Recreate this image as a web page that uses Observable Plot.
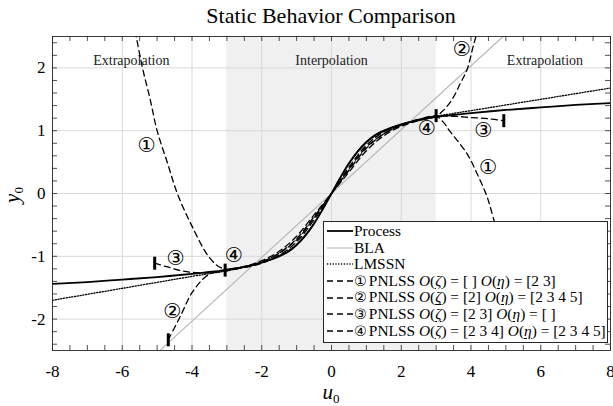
<!DOCTYPE html>
<html><head><meta charset="utf-8">
<script src="https://cdn.jsdelivr.net/npm/d3@7"></script>
<script src="https://cdn.jsdelivr.net/npm/@observablehq/plot@0.6"></script>
<style>
body{margin:0;background:#fff;}
#wrap{position:relative;width:613px;height:406px;font-family:"Liberation Serif",serif;color:#000;overflow:hidden;}
#title{position:absolute;left:52px;width:558px;top:4px;text-align:center;font-size:22px;line-height:24px;}
#chart{position:absolute;left:0;top:30px;}
#xlab{position:absolute;left:311px;width:40px;top:381px;text-align:center;font-size:21px;line-height:22px;font-style:italic;}
#ylab{position:absolute;left:-8px;top:184px;width:40px;text-align:center;font-size:21px;line-height:22px;font-style:italic;transform:rotate(-90deg);}
sub{font-style:normal;font-size:13px;vertical-align:-4px;line-height:0;}
#legend{position:absolute;left:323px;top:221px;width:283px;height:120px;background:#fff;border:1px solid #262626;font-size:15.4px;}
.row{height:16.6px;line-height:16.6px;white-space:nowrap;display:flex;align-items:center;}
.row svg{flex:none;}
.circ{font-family:"DejaVu Sans",sans-serif;font-size:14.3px;line-height:16px;margin-right:2px;}
.ul{text-decoration:underline;font-style:italic;text-underline-offset:2px;}
.O{font-style:italic;}
</style></head>
<body>
<div id="wrap">
  <div id="title">Static Behavior Comparison</div>
  <div id="chart"></div>
  <div id="xlab">u<sub>0</sub></div>
  <div id="ylab">y<sub>0</sub></div>
  <div id="legend"></div>
</div>
<script>
// ---- data ----
const xMajor = [-8,-6,-4,-2,0,2,4,6,8];
const yMajor = [-2,-1,0,1,2];
const xMinor = [-8,-7.5,-7,-6.5,-6,-5.5,-5,-4.5,-4,-3.5,-3,-2.5,-2,-1.5,-1,-0.5,0,0.5,1,1.5,2,2.5,3,3.5,4,4.5,5,5.5,6,6.5,7,7.5,8];
const yMinor = [-2.4,-2.2,-2,-1.8,-1.6,-1.4,-1.2,-1,-0.8,-0.6,-0.4,-0.2,0,0.2,0.4,0.6,0.8,1,1.2,1.4,1.6,1.8,2,2.2,2.4];

const interpFrom = -3, interpTo = 3;
const regionText = ["Extrapolation","Interpolation","Extrapolation"];
const regionX = [-5.74, 0, 6.12];
const regionY = [2.12, 2.12, 2.12];

const processX = [-8,-7,-6,-5,-4,-3.5,-3,-2.5,-2,-1.5,-1.25,-1,-0.75,-0.5,-0.25,0,0.25,0.5,0.75,1,1.25,1.5,2,2.5,3,3.5,4,5,6,7,8];
const processY = [-1.44,-1.41,-1.37,-1.33,-1.28,-1.25,-1.22,-1.17,-1.10,-1.00,-0.93,-0.82,-0.67,-0.48,-0.25,0,0.25,0.48,0.67,0.82,0.93,1.00,1.10,1.17,1.22,1.25,1.28,1.33,1.37,1.41,1.44];

const blaX = [-4.92, 4.92];
const blaY = [-2.5, 2.5];

const lmssnX = [-8,-6,-4,-3,-2.5,-2,-1.5,-1,-0.5,0,0.5,1,1.5,2,2.5,3,4,6,8];
const lmssnY = [-1.70,-1.51,-1.32,-1.23,-1.17,-1.10,-0.99,-0.81,-0.47,0,0.47,0.81,0.99,1.10,1.17,1.23,1.32,1.50,1.68];

const pnlss1X = [-5.75,-5.6,-5.42,-5.2,-5.0,-4.7,-4.42,-4.0,-3.5,-3.13,-2.5,-2,-1.5,-1,-0.5,0,0.5,1,1.5,2,2.5,3,3.2,3.41,3.89,4.22,4.46,4.63,4.85,5.1];
const pnlss1Y = [2.9,2.5,2.0,1.5,1.0,0.48,0.0,-0.52,-1.02,-1.19,-1.17,-1.09,-0.95,-0.72,-0.37,0,0.37,0.72,0.95,1.09,1.18,1.23,1.14,0.98,0.63,0.26,-0.05,-0.37,-0.8,-1.3];

const pnlss2X = [-4.68,-4.33,-4.0,-3.6,-3.3,-3,-2.5,-2,-1.5,-1,-0.5,0,0.5,1,1.5,2,2.5,3,3.2,3.46,3.7,3.89,4.08,4.25];
const pnlss2Y = [-2.33,-1.95,-1.58,-1.32,-1.24,-1.21,-1.16,-1.07,-0.92,-0.68,-0.34,0,0.34,0.68,0.92,1.07,1.16,1.23,1.32,1.50,1.76,1.98,2.38,2.7];

const pnlss3X = [-5.07,-4.7,-4.3,-3.9,-3.5,-3,-2.5,-2,-1.5,-1,-0.5,0,0.5,1,1.5,2,2.5,3,3.5,4,4.5,4.94];
const pnlss3Y = [-1.11,-1.17,-1.23,-1.26,-1.26,-1.23,-1.17,-1.09,-0.95,-0.74,-0.39,0,0.39,0.74,0.95,1.09,1.17,1.23,1.23,1.21,1.19,1.16];

const pnlss4X = [-3.05,-2.5,-2,-1.5,-1,-0.5,0,0.5,1,1.5,2,2.5,3];
const pnlss4Y = [-1.22,-1.18,-1.11,-0.98,-0.77,-0.42,0,0.42,0.77,0.98,1.10,1.18,1.24];

const endX = [-4.68,-5.07,4.94,-3.05,3.0];
const endY = [-2.33,-1.11,1.16,-1.22,1.24];

const labelText = ["①","①","②","②","③","③","④","④"];
const labelX = [-5.30,4.49,-4.56,3.74,-4.47,4.36,-2.80,2.74];
const labelY = [0.76,0.42,-1.88,2.30,-1.04,1.01,-0.98,1.03];

const circled = ["①","②","③","④"];
const zetaOrders = ["[ ]","[2]","[2 3]","[2 3 4]"];
const etaOrders = ["[2 3]","[2 3 4 5]","[ ]","[2 3 4 5]"];

// ---- build ----
const zip = (xs, ys) => xs.map((x, i) => ({x, y: ys[i]}));
const W = 613, H = 376, mT = 6, mB = 56, mL = 52, mR = 3;
const fw = W - mL - mR, fh = H - mT - mB;
const tk = 5;
const serif = "Liberation Serif, serif";

const barSymbol = {draw(ctx, size){ const r = Math.sqrt(size / Math.PI); ctx.rect(-1.5, -r, 3, 2 * r); }};
const dash = "6,4";

const chart = Plot.plot({
  width: W, height: H,
  marginTop: mT, marginBottom: mB, marginLeft: mL, marginRight: mR,
  style: {fontFamily: serif, background: "transparent"},
  x: {domain: [-8, 8], label: null},
  y: {domain: [-2.5, 2.5], label: null},
  marks: [
    Plot.rect([{a: interpFrom, b: interpTo}], {x1: "a", x2: "b", fill: "#f0f0f0"}),
    Plot.ruleX(xMajor, {stroke: "#d9d9d9", strokeWidth: 1}),
    Plot.ruleY(yMajor, {stroke: "#d9d9d9", strokeWidth: 1}),
    Plot.text(regionText.map((t, i) => ({t, x: regionX[i], y: regionY[i]})), {x: "x", y: "y", text: "t", fontSize: 14, fill: "#222"}),
    Plot.line(zip(blaX, blaY), {x: "x", y: "y", stroke: "#b5b5b5", strokeWidth: 1.1, clip: true}),
    Plot.line(zip(processX, processY), {x: "x", y: "y", stroke: "#000", strokeWidth: 1.8, curve: "catmull-rom", clip: true}),
    Plot.line(zip(lmssnX, lmssnY), {x: "x", y: "y", stroke: "#000", strokeWidth: 1.3, strokeDasharray: "1.2,1.6", curve: "catmull-rom", clip: true}),
    Plot.line(zip(pnlss1X, pnlss1Y), {x: "x", y: "y", stroke: "#000", strokeWidth: 1.3, strokeDasharray: dash, curve: "catmull-rom", clip: true}),
    Plot.line(zip(pnlss2X, pnlss2Y), {x: "x", y: "y", stroke: "#000", strokeWidth: 1.3, strokeDasharray: dash, curve: "catmull-rom", clip: true}),
    Plot.line(zip(pnlss3X, pnlss3Y), {x: "x", y: "y", stroke: "#000", strokeWidth: 1.3, strokeDasharray: dash, curve: "catmull-rom", clip: true}),
    Plot.line(zip(pnlss4X, pnlss4Y), {x: "x", y: "y", stroke: "#000", strokeWidth: 1.3, strokeDasharray: dash, curve: "catmull-rom", clip: true}),
    Plot.dot(zip(endX, endY), {x: "x", y: "y", symbol: barSymbol, r: 6.5, fill: "#000", stroke: "none"}),
    Plot.text(labelText.map((t, i) => ({t, x: labelX[i], y: labelY[i]})), {x: "x", y: "y", text: "t", fontSize: 20.5, fontFamily: "DejaVu Sans, sans-serif", fill: "#000"}),
    Plot.frame({stroke: "#262626", strokeWidth: 0.9}),
    Plot.ruleX(xMinor, {stroke: "#262626", strokeWidth: 0.8, insetTop: fh - tk}),
    Plot.ruleX(xMinor, {stroke: "#262626", strokeWidth: 0.8, insetBottom: fh - tk}),
    Plot.ruleY(yMinor, {stroke: "#262626", strokeWidth: 0.8, insetRight: fw - tk}),
    Plot.ruleY(yMinor, {stroke: "#262626", strokeWidth: 0.8, insetLeft: fw - tk}),
    Plot.axisX(xMajor, {tickSize: 0, tickPadding: 14, tickFormat: d => String(d), fontSize: 17, label: null}),
    Plot.axisY(yMajor, {tickSize: 0, tickPadding: 7, tickFormat: d => String(d), fontSize: 17, label: null})
  ]
});
document.getElementById("chart").appendChild(chart);

// ---- legend ----
const legend = document.getElementById("legend");
function sample(style) {
  const s = {solid: 'stroke="#000" stroke-width="1.8"', gray: 'stroke="#b5b5b5" stroke-width="1.1"', dot: 'stroke="#000" stroke-width="1.3" stroke-dasharray="1.2,1.6"', dash: 'stroke="#000" stroke-width="1.3" stroke-dasharray="6,4"'}[style];
  return `<svg width="30" height="16"><line x1="3" x2="29" y1="8" y2="8" ${s}/></svg>`;
}
const rows = [
  {style: "solid", html: "Process"},
  {style: "gray", html: "BLA"},
  {style: "dot", html: "LMSSN"}
];
circled.forEach((c, i) => rows.push({style: "dash", html:
  `<span class="circ">${c}</span>PNLSS <span class="O">O</span>(<span class="ul">ζ</span>) = ${zetaOrders[i]} <span class="O">O</span>(<span class="ul">η</span>) = ${etaOrders[i]}`}));
legend.innerHTML = `<div style="padding-top:1px">` + rows.map(r => `<div class="row">${sample(r.style)}<span>${r.html}</span></div>`).join("") + `</div>`;
</script>
</body></html>
